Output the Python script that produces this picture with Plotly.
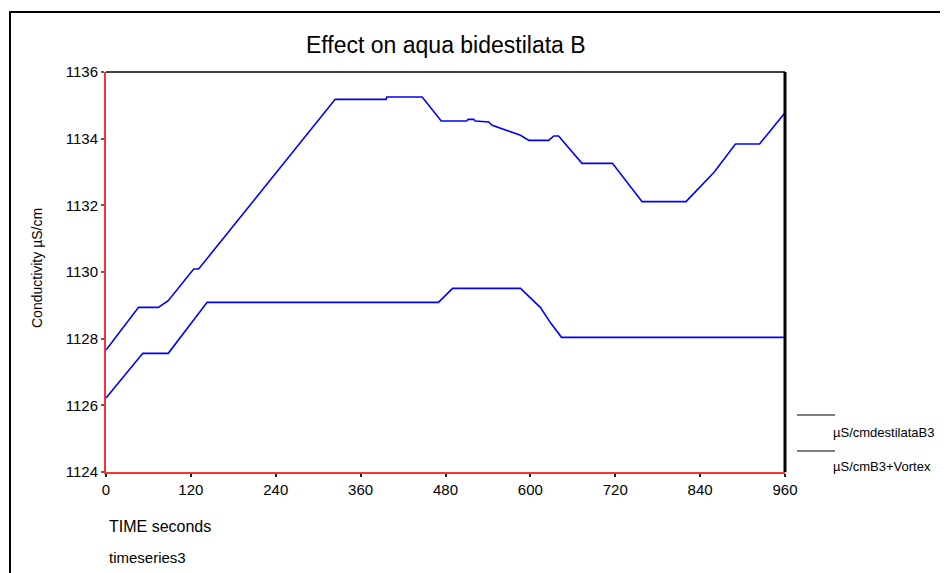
import plotly.graph_objects as go

# ---- data ----
series_names = ["µS/cmdestilataB3", "µS/cmB3+Vortex"]

t_destilata = [0, 46, 74, 88, 124, 131, 324, 396, 397, 447, 474, 510, 512, 520, 522, 541, 546,
               560, 574, 586, 598, 626, 633, 640, 645, 673, 716, 758, 820, 860, 890, 924, 960]
y_destilata = [1127.66, 1128.94, 1128.94, 1129.14, 1130.09, 1130.09, 1135.18, 1135.18, 1135.25,
               1135.25, 1134.53, 1134.53, 1134.58, 1134.58, 1134.53, 1134.50, 1134.40, 1134.30,
               1134.20, 1134.10, 1133.95, 1133.95, 1134.08, 1134.08, 1133.95, 1133.26, 1133.26,
               1132.11, 1132.11, 1133.00, 1133.84, 1133.84, 1134.78]

t_vortex = [0, 52, 88, 143, 470, 490, 586, 600, 614, 629, 644, 960]
y_vortex = [1126.22, 1127.56, 1127.56, 1129.09, 1129.09, 1129.51, 1129.51, 1129.21, 1128.94,
            1128.46, 1128.04, 1128.04]

x_ticks = [0, 120, 240, 360, 480, 600, 720, 840, 960]
y_ticks = [1124, 1126, 1128, 1130, 1132, 1134, 1136]

title_text = "Effect on aqua bidestilata B"
x_title = "TIME seconds"
sub_title = "timeseries3"
y_title = "Conductivity µS/cm"

FONT = "Liberation Sans Narrow, Arial Narrow, Liberation Sans, Arial, sans-serif"

fig = go.Figure()
fig.add_trace(go.Scatter(x=t_destilata, y=y_destilata, mode="lines", name=series_names[0],
                         line=dict(color="#0000ff", width=1.6)))
fig.add_trace(go.Scatter(x=t_vortex, y=y_vortex, mode="lines", name=series_names[1],
                         line=dict(color="#0000ff", width=1.6)))

# page body has an 8px margin; work in window pixels and convert
OFF = 8
W, H = 948 - OFF, 573 - OFF
L, R, T, B = 106, 785, 72, 472   # plot area in window pixels
pw, ph = R - L, B - T


def px(x):
    return (x - L) / pw


def py(y):
    return (B - y) / ph


shapes = [
    # outer border
    dict(type="rect", xref="paper", yref="paper", x0=px(10), x1=px(960), y0=py(590), y1=py(12),
         line=dict(color="black", width=2), fillcolor="rgba(0,0,0,0)", layer="below"),
    # top frame
    dict(type="line", xref="paper", yref="paper", x0=0, x1=1, y0=1, y1=1,
         line=dict(color="#404040", width=2)),
    # right frame
    dict(type="line", xref="paper", yref="paper", x0=1, x1=1, y0=0, y1=1,
         line=dict(color="black", width=3)),
    # legend line samples
    dict(type="line", xref="paper", yref="paper", x0=px(797), x1=px(835), y0=py(415), y1=py(415),
         line=dict(color="black", width=1.2)),
    dict(type="line", xref="paper", yref="paper", x0=px(797), x1=px(835), y0=py(451), y1=py(451),
         line=dict(color="black", width=1.2)),
]

annotations = [
    dict(text=series_names[0], xref="paper", yref="paper", x=px(831), y=py(432),
         xanchor="left", yanchor="middle", showarrow=False, font=dict(family=FONT, size=13, color="black")),
    dict(text=series_names[1], xref="paper", yref="paper", x=px(831), y=py(466),
         xanchor="left", yanchor="middle", showarrow=False, font=dict(family=FONT, size=13, color="black")),
    dict(text=x_title, xref="paper", yref="paper", x=px(107), y=py(526),
         xanchor="left", yanchor="middle", showarrow=False, font=dict(family=FONT, size=16, color="black")),
    dict(text=sub_title, xref="paper", yref="paper", x=px(107), y=py(557),
         xanchor="left", yanchor="middle", showarrow=False, font=dict(family=FONT, size=15, color="black")),
    dict(text=y_title, xref="paper", yref="paper", x=px(37), y=py(268), textangle=-90,
         xanchor="center", yanchor="middle", showarrow=False, font=dict(family=FONT, size=14, color="black")),
    dict(text=title_text, xref="paper", yref="paper", x=0.5, y=py(45),
         xanchor="center", yanchor="middle", showarrow=False, font=dict(family=FONT, size=23, color="black")),
]

fig.update_layout(
    width=W, height=H,
    margin=dict(l=L - OFF, r=W - (R - OFF), t=T - OFF, b=H - (B - OFF), pad=0),
    paper_bgcolor="white", plot_bgcolor="white",
    showlegend=False,
    font=dict(family=FONT, size=15, color="black"),
    shapes=shapes, annotations=annotations,
    xaxis=dict(range=[0, 960], tickvals=x_ticks, ticktext=[str(v) for v in x_ticks],
               showgrid=False, zeroline=False, showline=True, linecolor="#ff3030", linewidth=2,
               ticks="outside", ticklen=3, tickwidth=2, tickcolor="#202020",
               tickfont=dict(family=FONT, size=15), fixedrange=True),
    yaxis=dict(range=[1124, 1136], tickvals=y_ticks, ticktext=[str(v) for v in y_ticks],
               showgrid=False, zeroline=False, showline=True, linecolor="#ff3030", linewidth=2,
               ticks="outside", ticklen=3, tickwidth=2, tickcolor="#606060",
               tickfont=dict(family=FONT, size=15), fixedrange=True),
)

fig.write_html("out.html")
